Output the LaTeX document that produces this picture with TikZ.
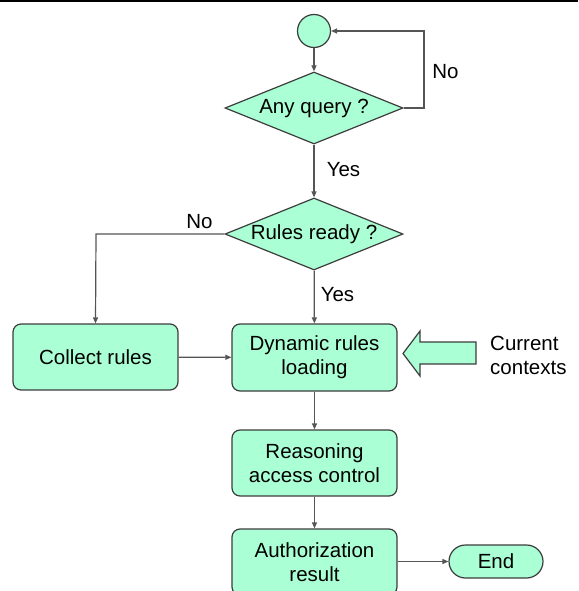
\documentclass[tikz,border=0pt]{standalone}
\usepackage{fontspec}
\setmainfont{Liberation Sans}
\usetikzlibrary{shapes.geometric,arrows.meta}

\definecolor{mint}{RGB}{170,255,212}
\definecolor{edge}{RGB}{60,60,60}
\definecolor{wire}{RGB}{85,85,85}

\tikzset{
  txt/.style={font=\fontsize{20.5}{24}\selectfont},
  procbox/.style={draw=edge, fill=mint, line width=1.2pt, rounded corners=8pt,
    minimum width=165pt, minimum height=66pt, align=center, inner sep=0pt, txt},
  decision/.style={draw=edge, fill=mint, line width=1.2pt, diamond,
    minimum width=178pt, minimum height=72pt, inner sep=0pt},
  startdot/.style={draw=edge, fill=mint, line width=1.2pt, circle,
    minimum size=33pt, inner sep=0pt},
  endcap/.style={draw=edge, fill=mint, line width=1.2pt, rounded corners=16.5pt,
    minimum width=94pt, minimum height=33pt, inner sep=0pt, txt},
  flow/.style={draw=wire, line width=1.2pt, -{Triangle[length=6pt,width=5pt]}},
  plain/.style={draw=wire, line width=1.2pt},
  tag/.style={txt, inner sep=0pt}
}

\begin{document}
\begin{tikzpicture}[x=1pt,y=-1pt]
  \useasboundingbox (0,0) rectangle (578,591);

  % top rule
  \draw[line width=2.5pt] (0,1.2) -- (578,1.2);

  % nodes
  \node[startdot] (start) at (314,31) {};
  \node[decision, label={[txt]center:Any query ?}] (query) at (314,108) {};
  \node[decision, label={[txt]center:Rules ready ?}] (ready) at (314,234) {};
  \node[procbox] (collect) at (95.5,357) {Collect rules};
  \node[procbox, minimum height=67pt] (load) at (314.5,357.5) {Dynamic rules\\loading};
  \node[procbox] (reason) at (314.5,463) {Reasoning\\access control};
  \node[procbox] (auth) at (314.5,562) {Authorization\\result};
  \node[endcap] (stop) at (496,561.5) {End};

  \coordinate (loopx) at (424,0);
  \coordinate (nox) at (96,0);

  % connectors
  \draw[flow] (start) -- (query);
  \draw[flow] (query.east) -- (query.east -| loopx) |- (start.east);
  \draw[flow] (query) -- (ready);
  \draw[flow] (ready.west) -- (ready.west -| nox) -- (collect.north);
  \draw[flow] (ready) -- (load);
  \draw[flow] (collect) -- (load);
  \draw[flow] (load) -- (reason);
  \draw[flow] (reason) -- (auth);
  \draw[flow] (auth.east |- stop.west) -- (stop.west);

  % branch labels
  \node[tag] (lno1) at (445.5,72) {No};
  \node[tag] (lyes1) at (343.5,170) {Yes};
  \node[tag] (lno2) at (199.5,222) {No};
  \node[tag] (lyes2) at (337.5,295) {Yes};

  % context input arrow
  \draw[draw=edge, fill=mint, line width=1.2pt]
    (476,342) -- (420,342) -- (420,331) -- (403,353.5) -- (420,376) -- (420,364) -- (476,364) -- cycle;
  \node[tag, anchor=west, align=left] (ctx) at (490,355) {Current\\contexts};
\end{tikzpicture}
\end{document}
